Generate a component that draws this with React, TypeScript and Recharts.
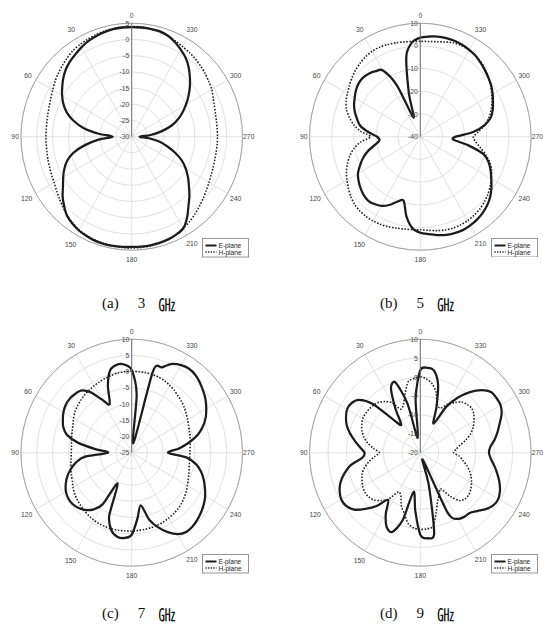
import React from 'react';
import { RadarChart, PolarGrid, PolarAngleAxis, PolarRadiusAxis, Radar } from 'recharts';

const ANGLES = [0, 5, 10, 15, 20, 25, 30, 35, 40, 45, 50, 55, 60, 65, 70, 75, 80, 85, 90, 95, 100, 105, 110, 115, 120, 125, 130, 135, 140, 145, 150, 155, 160, 165, 170, 175, 180, 185, 190, 195, 200, 205, 210, 215, 220, 225, 230, 235, 240, 245, 250, 255, 260, 265, 270, 275, 280, 285, 290, 295, 300, 305, 310, 315, 320, 325, 330, 335, 340, 345, 350, 355];
const ANGLE_TICKS = [0, 30, 60, 90, 120, 150, 180, 210, 240, 270, 300, 330];

const E_3GHZ = [3.8, 3.8, 3.7, 3.4, 3.0, 2.5, 1.8, 1.0, 0.3, -0.6, -1.8, -3.2, -4.6, -6.2, -8.2, -11, -14.5, -19.5, -24, -19.5, -15, -11, -8.3, -6.5, -5.0, -3.5, -1.5, 0.2, 1.8, 2.7, 3.4, 3.8, 4.1, 4.2, 4.2, 4.1, 4.0, 4.0, 4.0, 3.9, 3.7, 3.3, 2.6, 0.5, -2.1, -4.2, -6.4, -8.3, -10.3, -12.5, -15.3, -18.3, -21, -24.5, -27.5, -24, -20.5, -17, -14.5, -12.3, -10.2, -8.1, -6, -4, -2, -0.3, 1.0, 2.2, 3.2, 3.7, 3.8, 3.8];
const H_3GHZ = [4.0, 4.0, 3.9, 3.7, 3.4, 3.1, 2.8, 2.4, 1.7, 1.0, 0.3, -0.4, -1.2, -1.8, -2.3, -2.6, -2.8, -2.9, -2.9, -2.9, -2.8, -2.6, -2.4, -2.1, -1.7, -1.0, -0.2, 0.7, 1.6, 2.5, 3.2, 3.6, 3.9, 4.1, 4.2, 4.3, 4.3, 4.3, 4.2, 4.0, 3.7, 3.2, 2.6, 1.9, 1.1, 0.3, -0.5, -1.2, -1.8, -2.3, -2.6, -2.8, -2.9, -2.9, -2.9, -2.9, -2.8, -2.6, -2.2, -1.6, -0.8, -0.3, 0.3, 0.8, 1.3, 1.7, 2.1, 2.6, 3.1, 3.5, 3.8, 4.0];

const E_5GHZ = [3.6, 1.8, -3.8, -20, -31, -15, -6.3, -4.8, -3.8, -3.3, -3.6, -4.5, -5.8, -7.0, -8.6, -10.5, -12.5, -16.5, -20.5, -21.5, -19.2, -15.5, -12.5, -10.0, -7.5, -6.0, -4.8, -3.8, -3.3, -3.8, -4.8, -6.8, -9.5, -10.8, -4.2, 0.5, 2.3, 3.1, 4.0, 4.8, 5.2, 5.4, 5.1, 4.6, 3.8, 2.7, 1.2, -0.8, -3.0, -5.0, -7.2, -10.5, -18, -25, -24, -16, -10.5, -7.0, -5.2, -3.8, -2.3, -0.9, 0.2, 1.3, 2.4, 3.5, 4.2, 4.7, 5.0, 5.0, 4.8, 4.3];
const H_5GHZ = [2.0, 2.1, 2.4, 2.8, 3.2, 3.5, 3.5, 3.0, 2.3, 1.4, 0.3, -0.9, -2.0, -3.0, -4.5, -6.8, -9.5, -13, -17.5, -13, -9.5, -7, -5, -3.2, -1.8, -0.4, 1.0, 2.0, 2.6, 2.8, 2.8, 2.6, 2.2, 1.7, 1.3, 1.1, 1.0, 1.4, 2.0, 2.6, 2.9, 2.9, 2.7, 2.3, 1.7, 0.8, -0.3, -1.6, -3.0, -4.5, -6.5, -9.5, -12.5, -15, -16, -13.5, -10.5, -8, -6, -4.3, -2.8, -1.2, 0.3, 1.6, 2.8, 3.5, 4.0, 4.2, 4.0, 3.2, 2.5, 2.1];

const E_7GHZ = [0.5, 2.3, 2.5, 1.3, -3.0, -8.5, -6.0, -2.2, 0.0, 0.5, 0.7, 0.5, -0.1, -1.0, -2.0, -3.8, -8.0, -14, -17.5, -10.0, -7.0, -5.0, -3.3, -2.0, -1.0, -0.5, -0.5, -1.0, -2.0, -3.6, -6.6, -14.5, -4.2, -0.2, 1.3, 1.4, 0.3, -4.5, -8.5, -3.6, -0.5, 2.0, 4.0, 4.9, 4.8, 4.3, 3.6, 2.8, 1.8, 0.5, -0.8, -2.3, -4.3, -7.5, -13.5, -10, -6.5, -3.3, -1.0, 0.8, 2.2, 3.5, 4.5, 5.5, 6.3, 6.6, 6.2, 5.2, 3.0, 1.0, -22, -7];
const H_7GHZ = [0.1, 0.1, 0.0, -0.3, -0.6, -0.9, -1.2, -1.5, -1.8, -2.2, -2.6, -3.1, -3.8, -4.5, -5.0, -5.4, -5.7, -5.9, -5.9, -5.8, -5.5, -5.1, -4.7, -4.3, -3.6, -3.0, -2.5, -2.1, -1.7, -1.3, -1.0, -0.8, -0.7, -0.7, -0.7, -0.8, -0.8, -0.9, -1.0, -1.1, -1.2, -1.4, -1.7, -2.0, -2.3, -2.8, -3.4, -4.0, -4.7, -5.3, -5.8, -6.2, -6.5, -6.6, -6.6, -6.5, -6.2, -5.9, -5.6, -5.2, -4.6, -4.0, -3.3, -2.7, -2.2, -1.5, -1.0, -0.5, -0.2, 0.0, 0.1, 0.1];

const E_9GHZ = [1.8, -5.5, -16, -6.5, -0.2, -1.2, -6.5, -11, -8.5, -1.8, 1.7, 2.8, 2.9, 2.2, 1.2, -0.3, -2.0, -3.6, -4.9, -4.2, -0.8, 1.3, 3.0, 4.1, 4.7, 4.5, 3.4, 1.0, -1.6, -4.8, -1.3, 1.6, 2.3, -1.5, -9.5, -4.5, 1.7, 2.7, 1.6, -11, -18, -2.5, 0.2, 0.7, 0.8, 1.8, 3.2, 4.2, 4.4, 3.8, 2.8, 1.6, 0.4, -0.8, -1.4, -0.9, 0.5, 1.7, 2.9, 4.3, 5.1, 5.2, 5.0, 3.4, 0.9, -2.2, -6.0, -11.5, -7.2, -1.4, 1.9, 2.5];
const H_9GHZ = [0.1, -0.3, -1.0, -4.0, -6.5, -7.3, -4.8, -3.5, -2.6, -2.2, -2.0, -1.9, -2.0, -2.5, -3.2, -4.2, -5.6, -7.3, -8.9, -7.5, -5.8, -4.3, -3.2, -2.6, -2.0, -1.7, -1.8, -2.3, -3.5, -5.0, -8.0, -7.5, -5.0, -3.3, -1.0, 0.0, 0.3, 0.2, -0.2, -3.5, -6.3, -7.8, -9.0, -6.0, -3.5, -2.8, -2.8, -3.3, -4.0, -4.8, -5.8, -7.0, -8.3, -9.4, -11, -10.3, -9.2, -7.3, -5.5, -4.2, -3.2, -2.3, -1.8, -2.0, -2.5, -3.8, -5.2, -7.0, -6.5, -3.5, -1.5, -0.5];

const RADIUS_TICKS_3GHZ = [-30, -25, -20, -15, -10, -5, 0, 5];
const RADIUS_TICKS_5GHZ = [-40, -30, -20, -10, 0, 10];
const RADIUS_TICKS_7GHZ = [-25, -20, -15, -10, -5, 0, 5, 10];
const RADIUS_TICKS_9GHZ = [-20, -15, -10, -5, 0, 5, 10];

const SERIES_NAMES = ['E-plane', 'H-plane'];
const CAPTION_LETTERS = ['(a)', '(b)', '(c)', '(d)'];
const CAPTION_FREQS = ['3', '5', '7', '9'];
const CAPTION_UNIT = '㎓';

const rowsOf = (e: number[], h: number[]) => ANGLES.map((a, i) => ({ angle: a, E: e[i], H: h[i] }));

const SANS = '"Liberation Sans", Arial, sans-serif';
const OUTER_R = 113.5;
const CY = 136.7;
const X_SQUEEZE = 0.976;
const TICK_SIZE = 9;
const LABEL_FONT = 7;

const AngleTick = (props: any) => {
  const { x, y, payload } = props;
  const rad = (payload.coordinate * Math.PI) / 180;
  const dx = Math.cos(rad);
  const dy = -Math.sin(rad);
  const bx = x - TICK_SIZE * dx;
  const by = y - TICK_SIZE * dy;
  const label = String(payload.value);
  const w = label.length * LABEL_FONT * 0.556;
  const hh = LABEL_FONT;
  const gap = (dx > 0 ? 0.6 : 2) + 4 * Math.abs(dy);
  const d = gap + (Math.abs(dx) * w) / 2 + (Math.abs(dy) * hh) / 2;
  return (
    <text x={bx + d * dx} y={by + d * dy} textAnchor="middle" dominantBaseline="central" fontSize={LABEL_FONT} fill="#444" opacity={0.99} fontFamily={SANS}>
      {label}
    </text>
  );
};

const RadiusTick = (props: any) => {
  const { x, y, payload } = props;
  return (
    <text x={x - 2.5} y={y} textAnchor="end" dominantBaseline="central" fontSize={LABEL_FONT} fill="#444" opacity={0.99} fontFamily={SANS}>
      {payload.value}
    </text>
  );
};

function closedSmoothPath(points: { x: number; y: number }[]) {
  const n = points.length;
  if (!n) return '';
  const t = 0.14;
  let d = `M${points[0].x},${points[0].y}`;
  for (let i = 0; i < n; i++) {
    const p0 = points[(i - 1 + n) % n];
    const p1 = points[i];
    const p2 = points[(i + 1) % n];
    const p3 = points[(i + 2) % n];
    const c1x = p1.x + (p2.x - p0.x) * t;
    const c1y = p1.y + (p2.y - p0.y) * t;
    const c2x = p2.x - (p3.x - p1.x) * t;
    const c2y = p2.y - (p3.y - p1.y) * t;
    d += `C${c1x},${c1y} ${c2x},${c2y} ${p2.x},${p2.y}`;
  }
  return d + 'Z';
}

const EShape = (props: any) => (
  <path d={closedSmoothPath(props.points || [])} fill="none" stroke="#1c1c1c" strokeWidth={2.3} strokeLinejoin="round" />
);
const HShape = (props: any) => (
  <path d={closedSmoothPath(props.points || [])} fill="none" stroke="#222" strokeWidth={1.6} strokeDasharray="1.6 1.6" />
);

function PolarPanel({ left, top, cx, e, h, ticks }: any) {
  const rows = rowsOf(e, h);
  const W = 300;
  const H = 300;
  return (
    <div style={{ position: 'absolute', left, top, width: W, height: H }}>
      <div style={{ transform: `scaleX(${X_SQUEEZE})`, transformOrigin: `${cx}px ${CY}px` }}>
        <RadarChart
          width={W}
          height={H}
          cx={cx}
          cy={CY}
          outerRadius={OUTER_R}
          innerRadius={0}
          startAngle={90}
          endAngle={450}
          data={rows}
          margin={{ top: 0, right: 0, bottom: 0, left: 0 }}
        >
          <PolarGrid gridType="circle" polarAngles={ANGLE_TICKS} stroke="#d9d9d9" strokeWidth={0.8} />
          <PolarAngleAxis
            dataKey="angle"
            type="number"
            domain={[0, 360]}
            ticks={ANGLE_TICKS}
            tick={AngleTick}
            tickLine={false}
            tickSize={TICK_SIZE}
            axisLine={{ stroke: '#9a9a9a', strokeWidth: 0.9 }}
            axisLineType="circle"
          />
          <PolarRadiusAxis
            angle={90}
            type="number"
            domain={[ticks[0], ticks[ticks.length - 1]]}
            ticks={ticks}
            tick={RadiusTick}
            tickLine={false}
            axisLine={{ stroke: '#6e6e6e', strokeWidth: 1 }}
            allowDataOverflow
          />
          <Radar
            name={SERIES_NAMES[1]}
            dataKey="H"
            stroke="#222"
            strokeWidth={1.6}
            strokeDasharray="1.6 1.6"
            fill="none"
            fillOpacity={0}
            dot={false}
            shape={HShape}
            isAnimationActive={false}
          />
          <Radar
            name={SERIES_NAMES[0]}
            dataKey="E"
            stroke="#1c1c1c"
            strokeWidth={2.3}
            fill="none"
            fillOpacity={0}
            dot={false}
            shape={EShape}
            isAnimationActive={false}
          />
        </RadarChart>
      </div>
    </div>
  );
}

function PlaneLegend({ left, top }: any) {
  const w = 47;
  const hgt = 19.5;
  return (
    <svg style={{ position: 'absolute', left, top }} width={w} height={hgt}>
      <rect x={0.5} y={0.5} width={w - 1} height={hgt - 1} fill="#fff" stroke="#8c8c8c" strokeWidth={0.9} />
      <line x1={3.5} x2={14.5} y1={7.5} y2={7.5} stroke="#1c1c1c" strokeWidth={2} />
      <text x={16.5} y={7.5} dominantBaseline="central" fontSize={6.6} fill="#222" fontFamily={SANS}>{SERIES_NAMES[0]}</text>
      <line x1={3.5} x2={14.5} y1={14} y2={14} stroke="#222" strokeWidth={1.3} strokeDasharray="1.3 1.3" />
      <text x={16.5} y={14} dominantBaseline="central" fontSize={6.6} fill="#222" fontFamily={SANS}>{SERIES_NAMES[1]}</text>
    </svg>
  );
}

function Caption({ left, top, idx }: any) {
  return (
    <div style={{ position: 'absolute', left, top, height: 16, display: 'flex', alignItems: 'center', fontFamily: '"Liberation Serif", "Times New Roman", serif', fontSize: 15, color: '#111', whiteSpace: 'nowrap' }}>
      <span>{CAPTION_LETTERS[idx]}</span>
      <span style={{ marginLeft: 19 }}>{CAPTION_FREQS[idx]}</span>
      <span style={{ marginLeft: 13, fontFamily: '"Noto Sans CJK KR", "Noto Sans CJK SC", sans-serif', fontSize: 17 }}>{CAPTION_UNIT}</span>
    </div>
  );
}

export default function App() {
  return (
    <div style={{ position: 'absolute', left: 0, top: 0, width: 543, height: 630, background: '#fff', overflow: 'hidden' }}>
      <PolarPanel left={0} top={0} cx={131.7} e={E_3GHZ} h={H_3GHZ} ticks={RADIUS_TICKS_3GHZ} />
      <PolarPanel left={272} top={0} cx={148.3} e={E_5GHZ} h={H_5GHZ} ticks={RADIUS_TICKS_5GHZ} />
      <PolarPanel left={0} top={316} cx={131.7} e={E_7GHZ} h={H_7GHZ} ticks={RADIUS_TICKS_7GHZ} />
      <PolarPanel left={272} top={316} cx={148.3} e={E_9GHZ} h={H_9GHZ} ticks={RADIUS_TICKS_9GHZ} />
      <PlaneLegend left={201.7} top={238} />
      <PlaneLegend left={490.5} top={237.5} />
      <PlaneLegend left={201.7} top={554} />
      <PlaneLegend left={490.5} top={554} />
      <Caption left={102} top={295} idx={0} />
      <Caption left={380} top={295} idx={1} />
      <Caption left={102} top={605} idx={2} />
      <Caption left={380} top={605} idx={3} />
    </div>
  );
}
